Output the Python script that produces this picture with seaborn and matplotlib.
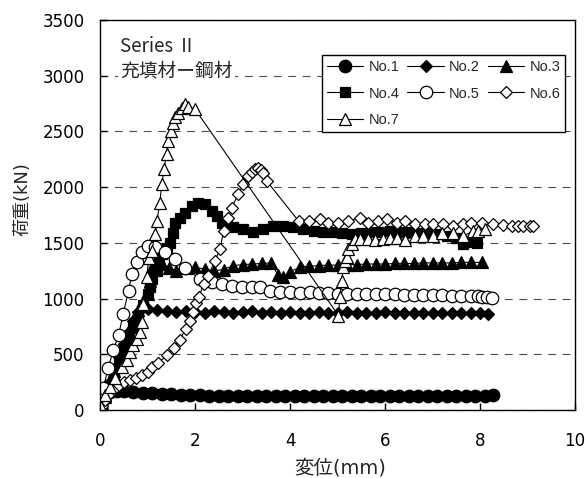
import matplotlib
matplotlib.use("Agg")
import matplotlib.pyplot as plt
import pandas as pd
import seaborn as sns

# ---------------- data ----------------
series_names = ["No.1", "No.2", "No.3", "No.4", "No.5", "No.6", "No.7"]

x1 = [0, 0.05, 0.1, 0.2, 0.35, 0.5, 0.7, 0.9, 1.1, 1.3,
      1.5, 1.7, 1.9, 2.1, 2.3, 2.5, 2.7, 2.9, 3.1, 3.3,
      3.5, 3.7, 3.9, 4.1, 4.3, 4.5, 4.7, 4.9, 5.1, 5.3,
      5.5, 5.7, 5.9, 6.1, 6.3, 6.5, 6.7, 6.9, 7.1, 7.3,
      7.5, 7.7, 7.9, 8.1, 8.28]
y1 = [0, 80, 140, 165, 170, 168, 160, 155, 150, 145,
      140, 138, 135, 132, 130, 128, 127, 125, 125, 124,
      123, 122, 122, 122, 123, 123, 124, 124, 125, 125,
      126, 126, 127, 127, 127, 128, 128, 128, 128, 129,
      129, 130, 130, 130, 131]

x2 = [0, 0.05, 0.1, 0.2, 0.3, 0.4, 0.5, 0.6, 0.7, 0.8,
      0.9, 1.0, 1.2, 1.4, 1.6, 1.8, 2.0, 2.2, 2.4, 2.6,
      2.8, 3.0, 3.2, 3.4, 3.6, 3.8, 4.0, 4.2, 4.4, 4.6,
      4.8, 5.0, 5.2, 5.4, 5.6, 5.8, 6.0, 6.2, 6.4, 6.6,
      6.8, 7.0, 7.2, 7.4, 7.6, 7.8, 8.0, 8.17]
y2 = [0, 60, 130, 250, 370, 480, 590, 700, 800, 880,
      920, 910, 895, 885, 880, 890, 880, 875, 885, 880,
      870, 880, 885, 875, 880, 870, 880, 875, 870, 880,
      875, 870, 880, 875, 870, 875, 880, 870, 875, 870,
      875, 870, 875, 870, 875, 870, 868, 865]

x3 = [0, 0.05, 0.1, 0.2, 0.3, 0.4, 0.5, 0.6, 0.7, 0.8,
      0.9, 1.0, 1.05, 1.1, 1.15, 1.2, 1.3, 1.45, 1.6, 1.8,
      2.0, 2.2, 2.4, 2.6, 2.8, 3.0, 3.2, 3.4, 3.6, 3.75,
      3.85, 4.0, 4.2, 4.4, 4.6, 4.8, 5.0, 5.2, 5.4, 5.6,
      5.8, 6.0, 6.2, 6.4, 6.6, 6.8, 7.0, 7.2, 7.4, 7.6,
      7.8, 8.04]
y3 = [0, 60, 120, 230, 350, 460, 570, 680, 790, 900,
      980, 1040, 1160, 1280, 1330, 1360, 1310, 1270, 1250, 1270,
      1280, 1265, 1250, 1260, 1295, 1305, 1310, 1315, 1320, 1210,
      1195, 1240, 1280, 1290, 1295, 1300, 1300, 1305, 1305, 1310,
      1310, 1310, 1315, 1315, 1315, 1320, 1320, 1320, 1320, 1325,
      1325, 1325]

x4 = [0, 0.05, 0.1, 0.2, 0.3, 0.4, 0.5, 0.6, 0.7, 0.8,
      0.9, 1.0, 1.05, 1.1, 1.2, 1.25, 1.3, 1.4, 1.47, 1.53,
      1.58, 1.68, 1.79, 1.93, 2.07, 2.21, 2.35, 2.46, 2.56, 2.67,
      2.81, 3.02, 3.23, 3.44, 3.65, 3.86, 4.07, 4.28, 4.5, 4.7,
      4.9, 5.1, 5.3, 5.5, 5.7, 5.9, 6.1, 6.3, 6.5, 6.7,
      6.9, 7.1, 7.3, 7.5, 7.65, 7.8, 7.93]
y4 = [0, 50, 110, 220, 330, 440, 540, 640, 740, 840,
      940, 1040, 1100, 1180, 1250, 1310, 1400, 1450, 1500, 1590,
      1680, 1725, 1770, 1830, 1860, 1845, 1785, 1740, 1680, 1650,
      1640, 1620, 1600, 1620, 1650, 1650, 1640, 1620, 1610, 1600,
      1600, 1590, 1580, 1590, 1600, 1600, 1610, 1600, 1600, 1590,
      1590, 1580, 1560, 1540, 1490, 1510, 1500]

x5 = [0, 0.03, 0.07, 0.17, 0.28, 0.39, 0.49, 0.6, 0.67, 0.77,
      0.88, 1.02, 1.16, 1.37, 1.58, 1.79, 2.1, 2.35, 2.56, 2.77,
      2.98, 3.19, 3.37, 3.58, 3.79, 4.0, 4.2, 4.42, 4.6, 4.8,
      5.0, 5.2, 5.4, 5.6, 5.8, 6.0, 6.2, 6.4, 6.6, 6.8,
      7.0, 7.2, 7.4, 7.6, 7.8, 7.95, 8.05, 8.15, 8.25]
y5 = [0, 100, 195, 375, 535, 670, 865, 1070, 1220, 1325,
      1415, 1475, 1460, 1415, 1355, 1270, 1180, 1145, 1130, 1115,
      1100, 1100, 1100, 1070, 1055, 1055, 1050, 1055, 1050, 1050,
      1045, 1045, 1045, 1040, 1040, 1040, 1040, 1035, 1035, 1035,
      1030, 1030, 1025, 1025, 1020, 1020, 1015, 1010, 1005]

x6 = [0, 0.05, 0.1, 0.2, 0.3, 0.4, 0.5, 0.63, 0.75, 0.88,
      1.0, 1.09, 1.23, 1.4, 1.55, 1.68, 1.8, 1.89, 1.96, 2.03,
      2.08, 2.18, 2.28, 2.42, 2.53, 2.6, 2.7, 2.77, 2.91, 3.02,
      3.12, 3.2, 3.27, 3.33, 3.38, 3.44, 3.51, 4.18, 4.39, 4.63,
      4.81, 5.02, 5.23, 5.47, 5.65, 5.86, 6.04, 6.25, 6.42, 6.63,
      6.84, 7.02, 7.23, 7.44, 7.65, 7.82, 8.04, 8.28, 8.49, 8.67,
      8.81, 8.91, 9.05, 9.12]
y6 = [0, 40, 90, 150, 190, 220, 250, 270, 290, 310,
      340, 387, 420, 490, 560, 625, 730, 800, 880, 960,
      1010, 1130, 1205, 1340, 1445, 1607, 1725, 1815, 1935, 2025,
      2100, 2140, 2160, 2172, 2150, 2128, 2055, 1696, 1696, 1711,
      1682, 1682, 1696, 1726, 1682, 1696, 1711, 1682, 1696, 1667,
      1667, 1667, 1667, 1652, 1667, 1682, 1682, 1667, 1661, 1652,
      1652, 1652, 1652, 1652]

x7 = [0, 0.03, 0.1, 0.21, 0.32, 0.46, 0.56, 0.63, 0.69, 0.78,
      0.84, 0.88, 0.91, 0.98, 1.03, 1.09, 1.16, 1.2, 1.26, 1.3,
      1.35, 1.4, 1.44, 1.49, 1.53, 1.58, 1.65, 1.72, 1.79, 1.86,
      2.0, 5.02, 5.05, 5.09, 5.12, 5.16, 5.19, 5.23, 5.3, 5.37,
      5.47, 5.65, 5.79, 5.96, 6.1, 6.25, 6.42, 6.63, 6.81, 7.02,
      7.19, 7.44, 7.65, 7.86, 7.96, 8.1]
y7 = [0, 30, 134, 208, 285, 387, 446, 520, 580, 640,
      700, 790, 952, 1190, 1360, 1430, 1580, 1700, 1860, 2030,
      2160, 2300, 2410, 2500, 2575, 2630, 2665, 2710, 2750, 2720,
      2700, 848, 1012, 1161, 1280, 1339, 1369, 1443, 1488, 1533,
      1533, 1533, 1524, 1533, 1542, 1548, 1524, 1562, 1562, 1562,
      1592, 1592, 1562, 1607, 1607, 1622]

xs_all = [x1, x2, x3, x4, x5, x6, x7]
ys_all = [y1, y2, y3, y4, y5, y6, y7]

x_ticks = [0, 2, 4, 6, 8, 10]
y_ticks = [0, 500, 1000, 1500, 2000, 2500, 3000, 3500]
x_label = "変位(mm)"
y_label = "荷重(kN)"
note_text = "Series Ⅱ\n充填材ー鋼材"

# ---------------- styling ----------------
sns.set_theme(style="ticks")
plt.rcParams["font.family"] = ["DejaVu Sans", "Noto Sans CJK JP"]

marker_styles = [("o", "black", 9), ("D", "black", 6.5), ("^", "black", 9),
                 ("s", "black", 7), ("o", "white", 9), ("D", "white", 6.5),
                 ("^", "white", 9)]

fig = plt.figure(figsize=(5.85, 4.78), dpi=100)
ax = fig.add_axes([100 / 585, 68 / 478, 475 / 585, 390 / 478])

handles = []
for name, xs, ys, (m, fc, ms) in zip(series_names, xs_all, ys_all, marker_styles):
    df = pd.DataFrame({"x": xs, "y": ys})
    sns.lineplot(data=df, x="x", y="y", sort=False, estimator=None, ax=ax,
                 color="black", linewidth=0.8, marker=m, markersize=ms,
                 markerfacecolor=fc, markeredgecolor="black",
                 markeredgewidth=0.9, legend=False)
    handles.append(ax.lines[-1])

ax.set_xlim(0, 10)
ax.set_ylim(0, 3500)
ax.set_xticks(x_ticks)
ax.set_yticks(y_ticks)
ax.set_xticklabels([str(v) for v in x_ticks])
ax.set_yticklabels([str(v) for v in y_ticks])

ax.yaxis.grid(True, color="0.3", linestyle=(0, (7, 6)), linewidth=0.8)
ax.xaxis.grid(False)
ax.set_axisbelow(True)

for sp in ax.spines.values():
    sp.set_color("black")
    sp.set_linewidth(1.0)
    sp.set_visible(True)

ax.tick_params(axis="both", direction="in", length=5, width=1, colors="black",
               labelsize=12)
ax.tick_params(axis="x", pad=16)
ax.tick_params(axis="y", pad=11)

ax.set_xlabel(x_label, fontsize=14)
ax.set_ylabel(y_label, fontsize=13)
ax.xaxis.set_label_coords(0.505, -0.125)
ax.yaxis.set_label_coords(-0.145, 0.54)

ax.text(0.042, 0.958, note_text, transform=ax.transAxes, va="top", ha="left",
        fontsize=13.5, family=["Noto Sans CJK JP"],
        linespacing=1.2,
        bbox=dict(facecolor="white", edgecolor="none", pad=1.5))

# legend filled row by row: No.1 No.2 No.3 / No.4 No.5 No.6 / No.7
order = [0, 3, 6, 1, 4, 2, 5]
leg = ax.legend([handles[i] for i in order], [series_names[i] for i in order],
                ncol=3, loc="upper left",
                bbox_to_anchor=(0.467, 0.91), borderaxespad=0,
                prop={"family": "Liberation Sans", "size": 10.5},
                frameon=True, fancybox=False, framealpha=1,
                edgecolor="black", handlelength=2.5, handletextpad=0.35,
                columnspacing=0.55, labelspacing=0.85, borderpad=0.35)
leg.get_frame().set_linewidth(1.0)

fig.savefig("out.png", dpi=100)
